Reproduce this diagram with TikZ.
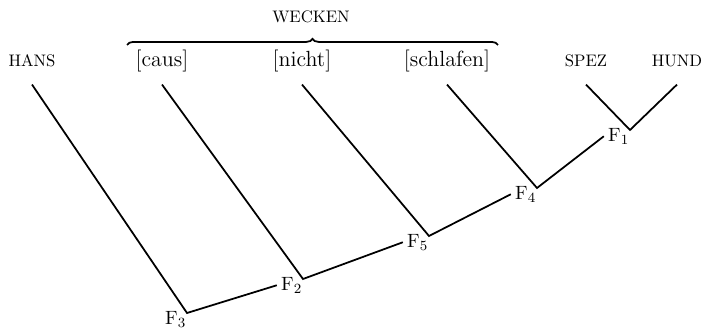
\documentclass[tikz,border=0pt]{standalone}
\usepackage{tikz}
\usetikzlibrary{positioning, calc, decorations.pathreplacing}

\begin{document}
\begin{tikzpicture}[x=0.02cm, y=-0.02cm, line width=1pt,
        leaf/.style={font=\fontsize{12.5}{15}\selectfont, inner sep=0pt, outer xsep=0pt, outer ysep=7pt, text depth=3pt, anchor=base},
        caps/.style={leaf, font=\fontsize{9.5}{11}\selectfont},
        flab/.style={font=\fontsize{11}{13}\selectfont, inner sep=0pt, outer xsep=2.5pt, outer ysep=0pt, anchor=north east, xshift=2pt, yshift=1pt}]
        \useasboundingbox (0,0) rectangle (707,330);

        % Leaves of the tree
        \node[caps] (hans) at (32,67) {HANS};
        \node[leaf] (caus) at (162,67) {[caus]};
        \node[leaf] (nicht) at (302,67) {[nicht]};
        \node[leaf] (schlafen) at (447,67) {[schlafen]};
        \node[caps] (spez) at (586,67) {SPEZ};
        \node[caps] (hund) at (677,67) {HUND};

        % Brace over the features of WECKEN
        \coordinate (bl) at (127,45);
        \coordinate (br) at (498,45);
        \draw[decorate, decoration={brace, amplitude=3.5pt}] (bl) -- (br);
        \node[caps, outer ysep=0pt] (wecken) at (311,23) {WECKEN};

        % Corners where the branches meet
        \coordinate (c3) at (187,313);
        \coordinate (c2) at (303,279);
        \coordinate (c5) at (429,236);
        \coordinate (c4) at (537,188);
        \coordinate (c1) at (630,130);

        % Labels F1 ... F5
        \node[flab] (F3) at (c3) {$\mathrm{F}_3$};
        \node[flab] (F2) at (c2) {$\mathrm{F}_2$};
        \node[flab] (F5) at (c5) {$\mathrm{F}_5$};
        \node[flab] (F4) at (c4) {$\mathrm{F}_4$};
        \node[flab] (F1) at (c1) {$\mathrm{F}_1$};

        % Branches
        \draw (hans.south) -- (c3) -- (F2.west);
        \draw (caus.south) -- (c2) -- (F5.west);
        \draw (nicht.south) -- (c5) -- (F4.west);
        \draw (schlafen.south) -- (c4) -- (F1.west);
        \draw (spez.south) -- (c1) -- (hund.south);
    \end{tikzpicture}
\end{document}
